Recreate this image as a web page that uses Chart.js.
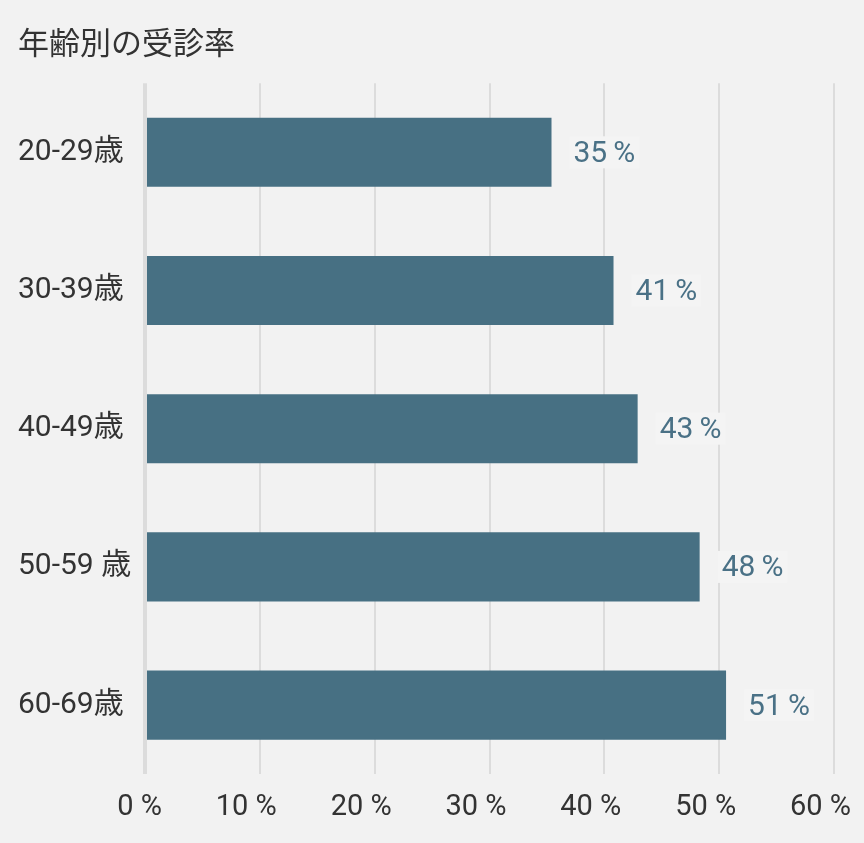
<!DOCTYPE html>
<html>
<head>
<meta charset="utf-8">
<script src="https://cdn.jsdelivr.net/npm/chart.js@4"></script>
<style>
  html, body { margin: 0; padding: 0; background: #f2f2f2; }
  #wrap { width: 864px; height: 843px; }
</style>
</head>
<body>
<div id="wrap"><canvas id="rateChart"></canvas></div>
<script>
const ageGroups = ["20-29歳", "30-39歳", "40-49歳", "50-59 歳", "60-69歳"];
const rates = [35.4, 40.8, 42.9, 48.3, 50.6];
const rateLabels = [35, 41, 43, 48, 51];

const FONT = 'Roboto, "Noto Sans CJK JP", sans-serif';

// draws the "35 %" labels right of each bar
const valueLabels = {
    id: "valueLabels",
    afterDatasetsDraw(chart) {
        const ctx = chart.ctx;
        const meta = chart.getDatasetMeta(0);
        ctx.save();
        ctx.font = "30px " + FONT;
        ctx.textBaseline = "middle";
        meta.data.forEach((bar, i) => {
            const text = rateLabels[i] + "\u2009%";
            const w = ctx.measureText(text).width;
            const x = bar.x + 22;
            ctx.fillStyle = "#f4f4f4";
            ctx.fillRect(x - 4, bar.y - 16, w + 8, 32);
            ctx.fillStyle = "#4a7186";
            ctx.fillText(text, x, bar.y + 2);
        });
        ctx.restore();
    }
};

const ctx = document.getElementById("rateChart").getContext("2d");
new Chart(ctx, {
    type: "bar",
    data: {
        labels: ageGroups,
        datasets: [{
            data: rates,
            backgroundColor: "#477083",
            categoryPercentage: 0.5,
            barPercentage: 1.0
        }]
    },
    options: {
        indexAxis: "y",
        responsive: true,
        maintainAspectRatio: false,
        animation: false,
        layout: { padding: { left: 18, right: 30, top: 0, bottom: 2 } },
        plugins: {
            legend: { display: false },
            tooltip: { enabled: false },
            title: {
                display: true,
                text: "年齢別の受診率",
                align: "start",
                color: "#333",
                font: { family: FONT, size: 31, weight: "normal" },
                padding: { top: 28, bottom: 18 }
            }
        },
        scales: {
            x: {
                min: 0,
                max: 60,
                border: { display: false },
                grid: {
                    color: "#dcdcdc",
                    lineWidth: c => (c.tick && c.tick.value === 0 ? 4 : 2),
                    drawTicks: false
                },
                ticks: {
                    stepSize: 10,
                    padding: 16,
                    align: "end",
                    labelOffset: 17,
                    color: "#333",
                    font: { family: FONT, size: 29 },
                    callback: v => v + " %"
                },
                afterFit: scale => { scale.paddingRight = 0; scale.paddingLeft = 0; }
            },
            y: {
                border: { display: false },
                grid: { display: false },
                ticks: {
                    crossAlign: "far",
                    color: "#333",
                    font: { family: FONT, size: 30 }
                },
                afterFit: scale => { scale.width = 127; }
            }
        }
    },
    plugins: [valueLabels]
});
</script>
</body>
</html>
